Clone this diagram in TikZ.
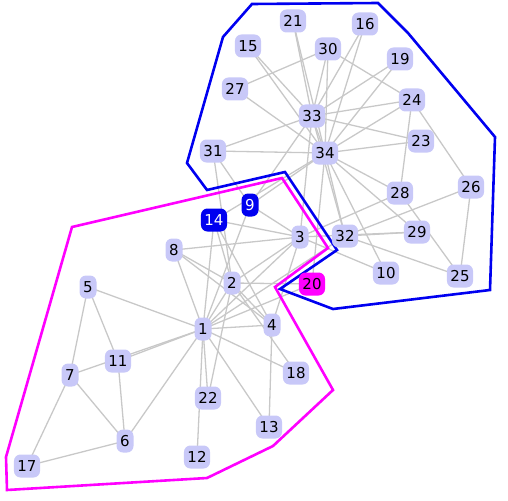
\documentclass[tikz,border=0pt]{standalone}
\usepackage{fontspec}
\setmainfont{DejaVu Sans}
\usetikzlibrary{backgrounds}
\definecolor{lav}{RGB}{200,200,248}
\definecolor{edgegray}{RGB}{200,200,200}
\definecolor{hullblue}{RGB}{0,0,240}
\definecolor{hullmag}{RGB}{255,0,255}
\tikzset{
  nd/.style={fill=lav, text=black, rounded corners=6.5pt, minimum height=23pt, minimum width=17pt, inner xsep=3.5pt, inner ysep=0pt, font=\fontsize{15}{15}\selectfont},
  ndblue/.style={nd, fill=hullblue, text=white},
  ndmag/.style={nd, fill=hullmag, text=black},
  edge/.style={draw=edgegray, line width=1.3pt},
  hullb/.style={draw=hullblue, line width=2.6pt, line join=miter},
  hullm/.style={draw=hullmag, line width=2.6pt, line join=miter}
}
\begin{document}
\begin{tikzpicture}[x=1pt,y=-1pt]
\useasboundingbox (0,0) rectangle (508,500);
\node[nd] (n1) at (203,329) {1};
\node[nd] (n2) at (232,283) {2};
\node[nd] (n3) at (300,237) {3};
\node[nd] (n4) at (272,325) {4};
\node[nd] (n5) at (88,287) {5};
\node[nd] (n6) at (125,441) {6};
\node[nd] (n7) at (70,375) {7};
\node[nd] (n8) at (174,250) {8};
\node[ndblue] (n9) at (250,205) {9};
\node[nd] (n10) at (386,273) {10};
\node[nd] (n11) at (118,361) {11};
\node[nd] (n12) at (197,457) {12};
\node[nd] (n13) at (269,427) {13};
\node[ndblue] (n14) at (214,220) {14};
\node[nd] (n15) at (248,46) {15};
\node[nd] (n16) at (365,24) {16};
\node[nd] (n17) at (27,466) {17};
\node[nd] (n18) at (296,373) {18};
\node[nd] (n19) at (400,59) {19};
\node[ndmag] (n20) at (312,284) {20};
\node[nd] (n21) at (293,21) {21};
\node[nd] (n22) at (208,398) {22};
\node[nd] (n23) at (421,141) {23};
\node[nd] (n24) at (412,100) {24};
\node[nd] (n25) at (460,276) {25};
\node[nd] (n26) at (471,187) {26};
\node[nd] (n27) at (235,89) {27};
\node[nd] (n28) at (400,193) {28};
\node[nd] (n29) at (417,232) {29};
\node[nd] (n30) at (328,49) {30};
\node[nd] (n31) at (213,151) {31};
\node[nd] (n32) at (345,236) {32};
\node[nd] (n33) at (312,116) {33};
\node[nd] (n34) at (325,153) {34};
\begin{pgfonlayer}{background}
\foreach \a/\b in {1/2,1/3,1/4,1/5,1/6,1/7,1/8,1/9,1/11,1/12,1/13,1/14,1/18,1/20,1/22,1/32,
  2/3,2/4,2/8,2/14,2/18,2/20,2/22,2/31,
  3/4,3/8,3/9,3/10,3/14,3/28,3/29,3/33,
  4/8,4/13,4/14,5/7,5/11,6/7,6/11,6/17,7/17,
  9/31,9/33,9/34,10/34,14/34,15/33,15/34,16/33,16/34,19/33,19/34,20/34,21/33,21/34,
  23/33,23/34,24/26,24/28,24/30,24/33,24/34,25/26,25/28,25/32,26/32,27/30,27/34,
  28/34,29/32,29/34,30/33,30/34,31/33,31/34,32/33,32/34,33/34}
  \draw[edge] (n\a.center) -- (n\b.center);
\draw[hullb] (252,4) -- (378,3) -- (408,33) -- (495,137) -- (490,290) -- (333,309) -- (280,289) -- (337,250) -- (285,172) -- (207,190) -- (187,163) -- (223,37) -- cycle;
\draw[hullm] (72,227) -- (282,178) -- (328,248) -- (275,287) -- (333,390) -- (273,446) -- (207,478) -- (7,490) -- (6,457) -- cycle;
\end{pgfonlayer}
\end{tikzpicture}
\end{document}
